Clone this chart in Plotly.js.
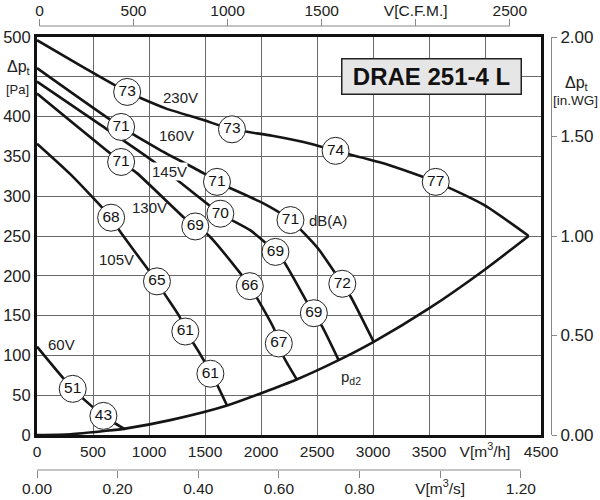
<!DOCTYPE html>
<html><head><meta charset="utf-8">
<script src="https://cdn.plot.ly/plotly-3.0.1.min.js"></script>
<style>html,body{margin:0;padding:0;background:#fff}#chart{width:600px;height:500px}</style>
</head><body><div id="chart"></div>
<script>
// ---- axis ticks ----
const flowTicks = [0, 500, 1000, 1500, 2000, 2500, 3000, 3500, 4000, 4500];
const flowTickText = ['0', '500', '1000', '1500', '2000', '2500', '3000', '3500', 'V[m<sup>3</sup>/h]', '4500'];
const pressTicks = [0, 50, 100, 150, 200, 250, 300, 350, 400, 450, 500];
const pressTickText = ['0', '50', '100', '150', '200', '250', '300', '350', '400', '', '500'];
const cfmTicks = [0, 500, 1000, 1500, 2000, 2500];
const cfmTickText = ['0', '500', '1000', '1500', 'V[C.F.M.]', '2500'];
const m3sTicks = [0, 0.2, 0.4, 0.6, 0.8, 1.0, 1.2];
const m3sTickText = ['0.00', '0.20', '0.40', '0.60', '0.80', 'V[m<sup>3</sup>/s]', '1.20'];
const wgTicks = [0, 0.5, 1.0, 1.5, 2.0];
const wgTickText = ['0.00', '0.50', '1.00', '1.50', '2.00'];

// ---- fan curves (V m3/h, dp Pa) ----
const flow230 = [0, 400, 805, 930, 1154, 1480, 1741, 2100, 2442, 2666, 3100, 3560, 3990, 4390];
const pres230 = [496, 463, 431, 423, 410, 396, 384, 376, 366, 357, 341, 318, 289, 250];
const flow160 = [0, 751, 1100, 1485, 1607, 2022, 2263, 2505, 2726, 2800, 3006];
const pres160 = [461, 387, 358, 329, 318, 291, 270, 235, 190, 174, 117];
const flow145 = [0, 564, 1047, 1637, 1906, 2129, 2204, 2427, 2472, 2547, 2693];
const pres145 = [444, 390, 343, 278, 257, 230, 218, 163, 153, 136, 94];
const flow130 = [0, 751, 892, 1306, 1413, 1531, 1816, 1900, 1965, 2114, 2159, 2203, 2323];
const pres130 = [429, 343, 329, 274, 262, 251, 203, 187, 172, 134, 115, 98, 69];
const flow105 = [0, 295, 662, 736, 975, 1071, 1145, 1279, 1324, 1398, 1488, 1548, 1608, 1697];
const pres105 = [366, 328, 273, 257, 211, 193, 176, 147, 130, 115, 94, 77, 63, 37];
const flow60 = [0, 319, 593, 787];
const pres60 = [111, 58, 24, 7];
const flowPd2 = [0, 300, 600, 787, 1200, 1697, 2323, 2693, 3006, 3500, 4000, 4390];
const presPd2 = [0, 1, 5, 8, 19, 37, 70, 94, 117, 159, 208, 250];

// ---- sound levels dB(A) ----
const circleFlow = [805, 1741, 2666, 3560, 751, 1607, 2263, 2726, 1637, 2129, 2472, 751, 1413, 1900, 2159, 662, 1071, 1324, 1548, 319, 593];
const circlePres = [431, 384, 357, 318, 387, 318, 270, 190, 278, 230, 153, 343, 262, 187, 115, 273, 193, 130, 77, 58, 24];
const circleDb = ['73', '73', '74', '77', '71', '71', '71', '72', '70', '69', '69', '71', '69', '66', '67', '68', '65', '61', '61', '51', '43'];

// ---- curve labels ----
const labelText = ['230V', '160V', '145V', '130V', '105V', '60V', 'dB(A)'];
const labelFlow = [1284, 1246, 1179, 1006, 707, 221, 2599];
const labelPres = [424, 376, 331, 286, 221, 114, 270];

const FONT = 'Liberation Sans, Arial, Helvetica, sans-serif';
const curveLine = {color: '#151515', width: 2.6, shape: 'spline', smoothing: 0.6};
const curves = [[flow230, pres230], [flow160, pres160], [flow145, pres145], [flow130, pres130], [flow105, pres105], [flow60, pres60], [flowPd2, presPd2]];
const traces = curves.map(c => ({type: 'scatter', mode: 'lines', x: c[0], y: c[1], line: curveLine, hoverinfo: 'skip', xaxis: 'x', yaxis: 'y'}));
traces.push({type: 'scatter', mode: 'markers+text', x: circleFlow, y: circlePres, text: circleDb,
  textposition: 'middle center', textfont: {family: FONT, size: 15.5, color: '#111'},
  marker: {size: 27, color: '#fff', line: {color: '#222', width: 1}}, cliponaxis: false, hoverinfo: 'skip'});
traces.push({type: 'scatter', x: [null], y: [null], xaxis: 'x2', yaxis: 'y', hoverinfo: 'skip'});
traces.push({type: 'scatter', x: [null], y: [null], xaxis: 'x3', yaxis: 'y', hoverinfo: 'skip'});
traces.push({type: 'scatter', x: [null], y: [null], xaxis: 'x', yaxis: 'y2', hoverinfo: 'skip'});

const yDom = [1 - 435 / 500, 1 - 37 / 500];
const annotations = labelText.map((t, i) => ({
  x: labelFlow[i], y: labelPres[i], xref: 'x', yref: 'y', xanchor: 'center', yanchor: 'middle', text: t, showarrow: false,
  font: {family: FONT, size: 15, color: '#222'},
  bgcolor: t === '145V' ? '#fff' : 'rgba(0,0,0,0)', borderpad: 0
}));
annotations.push({x: 2697, y: 72, xref: 'x', yref: 'y', xanchor: 'left', yanchor: 'middle', text: 'p<sub>d2</sub>', showarrow: false, font: {family: FONT, size: 15, color: '#222'}});
annotations.push({x: 3522, y: 450, xref: 'x', yref: 'y', xanchor: 'center', yanchor: 'middle', text: '<b>DRAE 251-4 L</b>', showarrow: false,
  font: {family: FONT, size: 24, color: '#111'}, bgcolor: '#e6e6e6', bordercolor: '#222', borderwidth: 1.5, borderpad: 1, width: 176, height: 32});
const sideLabels = [
  {text: 'Δp<sub>t</sub>', px: 19, py: 67, size: 16},
  {text: '[Pa]', px: 17, py: 90, size: 13},
  {text: 'Δp<sub>t</sub>', px: 577, py: 83, size: 16},
  {text: '[in.WG]', px: 575, py: 101, size: 13.5}
];
sideLabels.forEach(s => annotations.push({x: s.px / 600, y: 1 - s.py / 500, xref: 'paper', yref: 'paper',
  xanchor: 'center', yanchor: 'middle', text: s.text, showarrow: false, font: {family: FONT, size: s.size, color: '#222'}}));

const layout = {
  width: 600, height: 500, margin: {l: 0, r: 0, t: 0, b: 0},
  paper_bgcolor: '#fff', plot_bgcolor: '#fff', showlegend: false,
  font: {family: FONT, size: 15.5, color: '#222'},
  xaxis: {domain: [37 / 600, 541 / 600], range: [0, 4500], tickvals: flowTicks, ticktext: flowTickText, ticks: '',
    showgrid: true, gridcolor: '#6a6a6a', gridwidth: 1, showline: true, mirror: true, linecolor: '#111', linewidth: 3,
    zeroline: false, fixedrange: true, anchor: 'y', tickfont: {size: 15.5}},
  yaxis: {domain: yDom, range: [0, 500], tickvals: pressTicks, ticktext: pressTickText, ticks: '',
    showgrid: true, gridcolor: '#6a6a6a', gridwidth: 1, showline: true, mirror: true, linecolor: '#111', linewidth: 3,
    zeroline: false, fixedrange: true, anchor: 'x', tickfont: {size: 16.5}},
  xaxis2: {overlaying: 'x', anchor: 'free', position: 1 - 26 / 500, side: 'top', range: [-13, 2666],
    tickvals: cfmTicks, ticktext: cfmTickText, ticks: 'outside', ticklen: 7, tickcolor: '#888', tickwidth: 1,
    ticklabelstandoff: -3,
    showline: false, showgrid: false, zeroline: false, fixedrange: true, tickfont: {size: 15.5}},
  xaxis3: {overlaying: 'x', anchor: 'free', position: 1 - 470 / 500, side: 'bottom', range: [0, 1.25],
    tickvals: m3sTicks, ticktext: m3sTickText, ticks: 'outside', ticklen: 7, tickcolor: '#888', tickwidth: 1,
    ticklabelstandoff: -3,
    showline: false, showgrid: false, zeroline: false, fixedrange: true, tickfont: {size: 15.5}},
  yaxis2: {overlaying: 'y', anchor: 'free', position: 551 / 600, side: 'right', range: [0, 2],
    tickvals: wgTicks, ticktext: wgTickText, ticks: 'outside', ticklen: 5, tickcolor: '#888', tickwidth: 1,
    showline: true, linecolor: '#888', linewidth: 1, showgrid: false, zeroline: false, fixedrange: true, tickfont: {size: 17}},
  shapes: [
    {type: 'line', xref: 'x2', yref: 'paper', x0: 0, x1: 2500, y0: 1 - 26 / 500, y1: 1 - 26 / 500, line: {color: '#888', width: 1}},
    {type: 'line', xref: 'x3', yref: 'paper', x0: 0, x1: 1.2, y0: 1 - 470 / 500, y1: 1 - 470 / 500, line: {color: '#888', width: 1}}
  ],
  annotations: annotations
};
Plotly.newPlot('chart', traces, layout, {staticPlot: true, displayModeBar: false});
</script></body></html>
